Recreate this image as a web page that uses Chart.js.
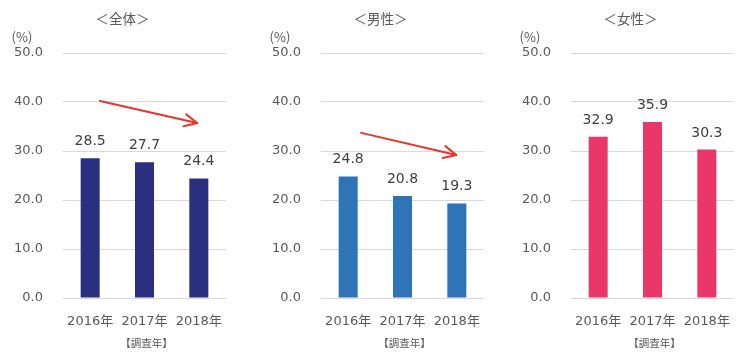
<!DOCTYPE html>
<html><head><meta charset="utf-8">
<script src="https://cdn.jsdelivr.net/npm/chart.js@4"></script>
<style>
html,body{margin:0;padding:0;background:#fff;}
#wrap{position:relative;width:740px;height:357px;overflow:hidden;}
.p{position:absolute;top:0;width:232px;height:357px;}
</style></head><body>
<div id="wrap">
<div class="p" style="left:0px"><canvas id="c1" width="232" height="357"></canvas></div>
<div class="p" style="left:258px"><canvas id="c2" width="232" height="357"></canvas></div>
<div class="p" style="left:508px"><canvas id="c3" width="232" height="357"></canvas></div>
</div>
<script>
const categories = ['2016年', '2017年', '2018年'];
const yTicks = [0, 10, 20, 30, 40, 50];
const panelTitles = ['＜全体＞', '＜男性＞', '＜女性＞'];
const totalValues = [28.5, 27.7, 24.4];
const maleValues = [24.8, 20.8, 19.3];
const femaleValues = [32.9, 35.9, 30.3];
const panelColors = ['#2B2F7F', '#2E74B7', '#EB3669'];
// arrow endpoints in data coordinates: [categoryIndexStart, valueStart, categoryIndexEnd, valueEnd]
const totalArrow = [0.18, 40.2, 1.97, 35.7];
const maleArrow = [0.24, 33.7, 1.99, 29.2];
const femaleArrow = null;
const unitLabel = '(%)';
const xAxisTitle = '【調査年】';

const NUMFONT = "'DejaVu Sans', 'Noto Sans CJK JP', sans-serif";
const JPFONT = "'Noto Sans CJK JP', 'DejaVu Sans', sans-serif";
const TEXT = '#595959';

const extras = {
  id: 'extras',
  afterDatasetsDraw(chart, args, opts) {
    const ctx = chart.ctx;
    const ca = chart.chartArea;
    const xs = chart.scales.x, ys = chart.scales.y;
    ctx.save();
    const meta = chart.getDatasetMeta(0);
    ctx.fillStyle = '#404040';
    ctx.font = '14px ' + NUMFONT;
    ctx.textAlign = 'center';
    ctx.textBaseline = 'alphabetic';
    meta.data.forEach((bar, i) => {
      const v = chart.data.datasets[0].data[i];
      ctx.fillText(v.toFixed(1), bar.x, bar.y - 13);
    });
    const a = opts.arrow;
    if (a) {
      const x1 = xs.getPixelForValue(a[0]), y1 = ys.getPixelForValue(a[1]);
      const x2 = xs.getPixelForValue(a[2]), y2 = ys.getPixelForValue(a[3]);
      ctx.strokeStyle = '#E8342A';
      ctx.lineWidth = 2;
      ctx.lineCap = 'round';
      ctx.lineJoin = 'round';
      ctx.beginPath(); ctx.moveTo(x1, y1); ctx.lineTo(x2, y2); ctx.stroke();
      const ang = Math.atan2(y2 - y1, x2 - x1);
      const L = 14, w = 0.45;
      ctx.beginPath();
      ctx.moveTo(x2 - L * Math.cos(ang - w), y2 - L * Math.sin(ang - w));
      ctx.lineTo(x2, y2);
      ctx.lineTo(x2 - L * Math.cos(ang + w), y2 - L * Math.sin(ang + w));
      ctx.stroke();
    }
    ctx.fillStyle = TEXT;
    ctx.textBaseline = 'middle';
    ctx.font = '13.5px ' + JPFONT;
    ctx.fillText(opts.title, (ca.left + ca.right) / 2 - 22, 19);
    ctx.font = '13px ' + JPFONT;
    ctx.fillText(unitLabel, ca.left - 41, 37);
    ctx.font = '10.5px ' + JPFONT;
    ctx.fillText(xAxisTitle, (ca.left + ca.right) / 2 + 2, 343);
    ctx.restore();
  }
};

function makeChart(id, values, color, title, arrow) {
  new Chart(document.getElementById(id), {
    type: 'bar',
    data: {
      labels: categories,
      datasets: [{ data: values, backgroundColor: color, barPercentage: 0.35, categoryPercentage: 1 }]
    },
    options: {
      responsive: false,
      animation: false,
      devicePixelRatio: 1,
      layout: { autoPadding: false, padding: { top: 53, right: 6, left: 0, bottom: 0 } },
      plugins: {
        legend: { display: false },
        tooltip: { enabled: false },
        extras: { title: title, arrow: arrow }
      },
      scales: {
        x: {
          grid: { display: false, drawTicks: false },
          border: { display: false },
          ticks: { color: TEXT, font: { size: 13, family: NUMFONT }, padding: 16, maxRotation: 0, autoSkip: false },
          afterFit(s) { s.height = 59; s.paddingLeft = 0; s.paddingRight = 0; }
        },
        y: {
          min: 0, max: 50,
          afterBuildTicks(s) { s.ticks = yTicks.map(v => ({ value: v })); },
          grid: { color: '#D9D9D9', lineWidth: 1, drawTicks: false },
          border: { display: false },
          ticks: { color: TEXT, font: { size: 13, family: NUMFONT }, padding: 20,
                   callback: v => Number(v).toFixed(1) },
          afterFit(s) { s.width = 63; s.paddingTop = 0; s.paddingBottom = 0; }
        }
      }
    },
    plugins: [extras]
  });
}
makeChart('c1', totalValues, panelColors[0], panelTitles[0], totalArrow);
makeChart('c2', maleValues, panelColors[1], panelTitles[1], maleArrow);
makeChart('c3', femaleValues, panelColors[2], panelTitles[2], femaleArrow);
</script>
</body></html>
